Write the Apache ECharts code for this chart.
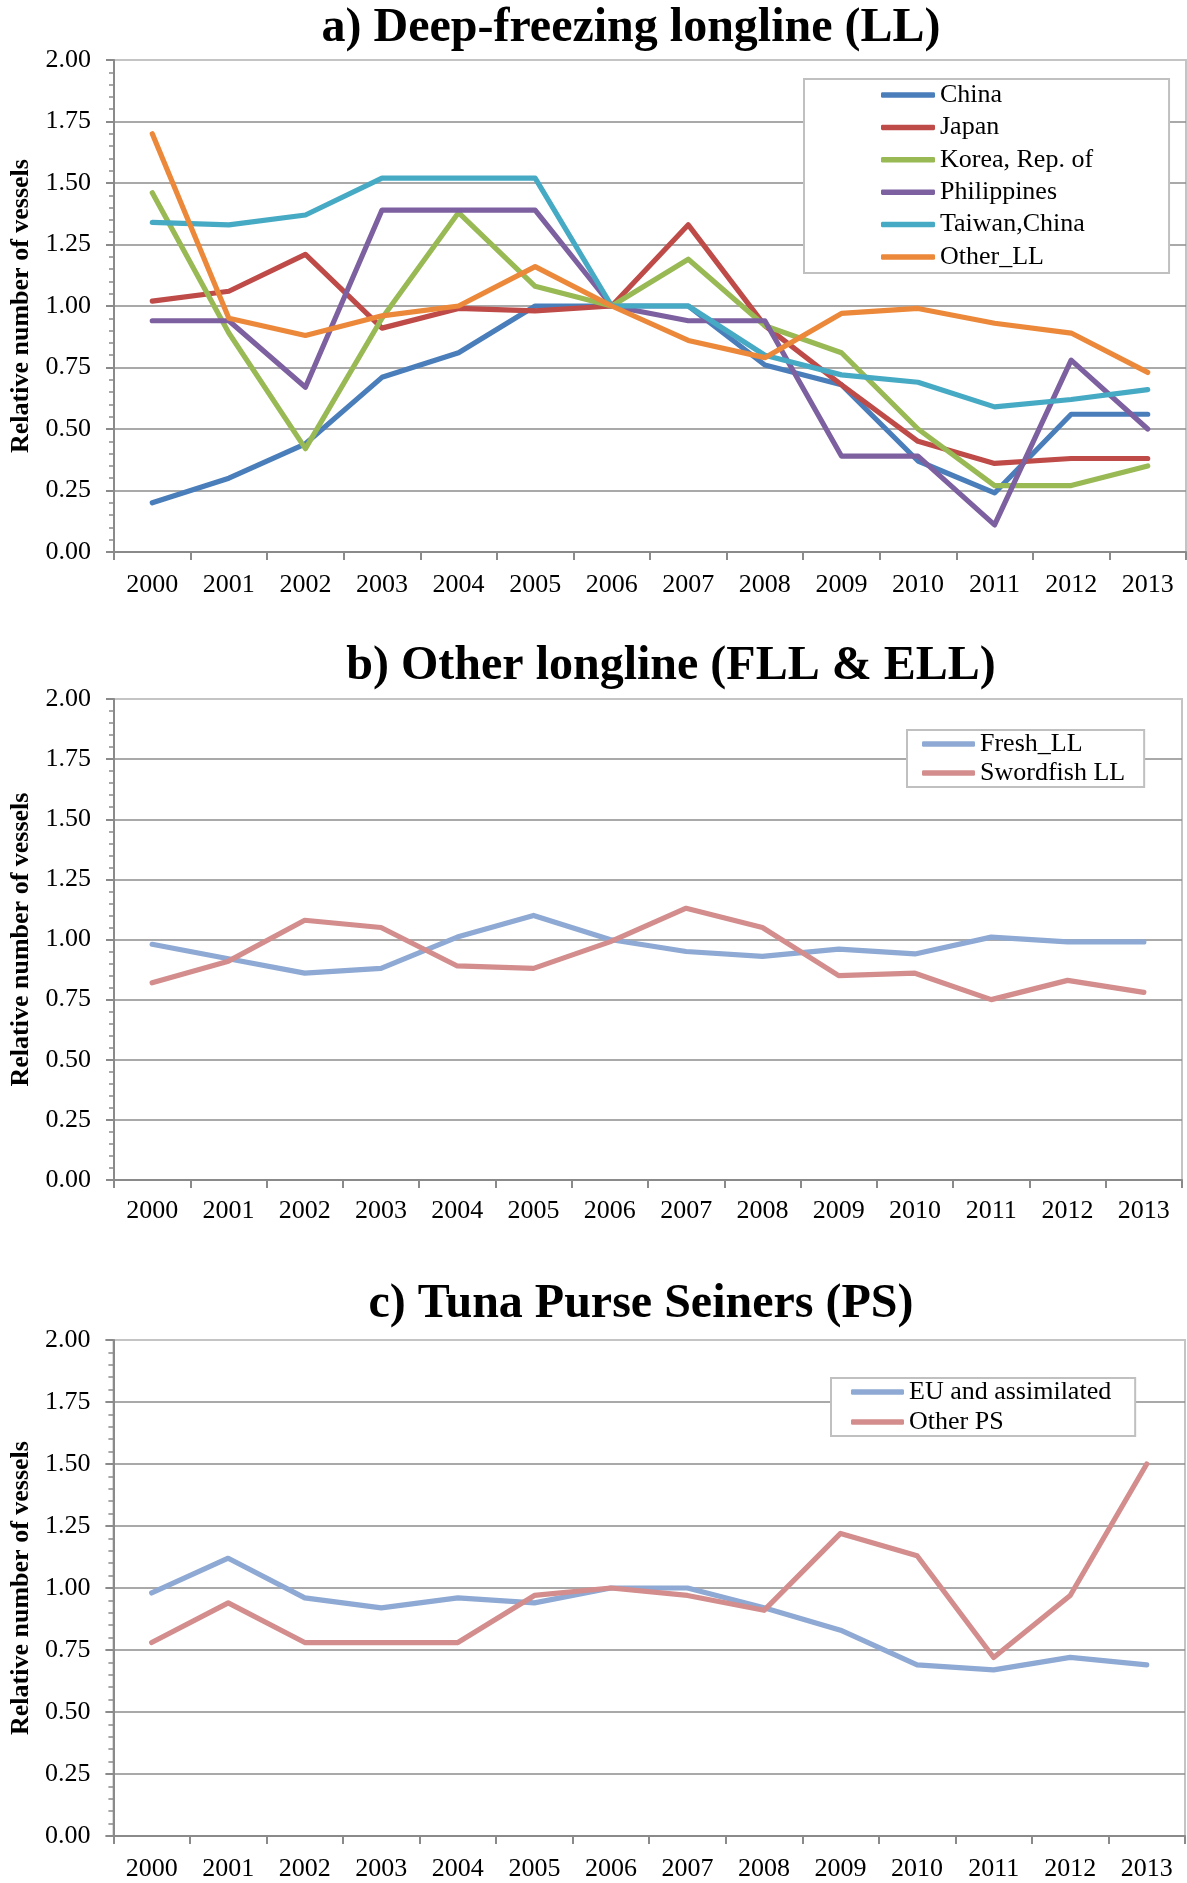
<!DOCTYPE html>
<html>
<head>
<meta charset="utf-8">
<script src="https://cdn.jsdelivr.net/npm/echarts@6/dist/echarts.min.js"></script>
<style>
  html, body { margin: 0; padding: 0; background: #fff; }
  #chart { width: 1187px; height: 1883px; }
</style>
</head>
<body>
<div id="chart"></div>
<script>
const years = ['2000', '2001', '2002', '2003', '2004', '2005', '2006', '2007', '2008', '2009', '2010', '2011', '2012', '2013']
const yTicks = [0, 0.25, 0.5, 0.75, 1, 1.25, 1.5, 1.75, 2]

// a) deep-freezing longline
const china = [0.20, 0.30, 0.44, 0.71, 0.81, 1.00, 1.00, 1.00, 0.76, 0.68, 0.37, 0.24, 0.56, 0.56]
const japan = [1.02, 1.06, 1.21, 0.91, 0.99, 0.98, 1.00, 1.33, 0.92, 0.68, 0.45, 0.36, 0.38, 0.38]
const korea = [1.46, 0.89, 0.42, 0.95, 1.38, 1.08, 1.00, 1.19, 0.92, 0.81, 0.50, 0.27, 0.27, 0.35]
const philippines = [0.94, 0.94, 0.67, 1.39, 1.39, 1.39, 1.00, 0.94, 0.94, 0.39, 0.39, 0.11, 0.78, 0.50]
const taiwan = [1.34, 1.33, 1.37, 1.52, 1.52, 1.52, 1.00, 1.00, 0.80, 0.72, 0.69, 0.59, 0.62, 0.66]
const otherLL = [1.70, 0.95, 0.88, 0.96, 1.00, 1.16, 1.00, 0.86, 0.79, 0.97, 0.99, 0.93, 0.89, 0.73]

// b) other longline
const freshLL = [0.98, 0.92, 0.86, 0.88, 1.01, 1.10, 1.00, 0.95, 0.93, 0.96, 0.94, 1.01, 0.99, 0.99]
const swordfishLL = [0.82, 0.91, 1.08, 1.05, 0.89, 0.88, 0.99, 1.13, 1.05, 0.85, 0.86, 0.75, 0.83, 0.78]

// c) purse seiners
const euPS = [0.98, 1.12, 0.96, 0.92, 0.96, 0.94, 1.00, 1.00, 0.92, 0.83, 0.69, 0.67, 0.72, 0.69]
const otherPS = [0.78, 0.94, 0.78, 0.78, 0.78, 0.97, 1.00, 0.97, 0.91, 1.22, 1.13, 0.72, 0.97, 1.50]

const FONT = 'Liberation Serif, Times New Roman, serif'
const AXIS_GRAY = '#8a8a8a'

const chart = echarts.init(document.getElementById('chart'), null, { renderer: 'canvas' })

const makeX = (gridIndex, margin) => ({
  type: 'category',
  gridIndex,
  data: years,
  boundaryGap: true,
  axisLine: { lineStyle: { color: AXIS_GRAY, width: 2 } },
  axisTick: { show: true, interval: 0, length: 8, lineStyle: { color: AXIS_GRAY, width: 2 } },
  axisLabel: { interval: 0, margin, color: '#000', fontFamily: FONT, fontSize: 26 },
  splitLine: { show: false }
})

const makeY = (gridIndex) => ({
  type: 'value',
  gridIndex,
  min: yTicks[0],
  max: yTicks[yTicks.length - 1],
  interval: 0.25,
  name: 'Relative number of vessels',
  nameLocation: 'middle',
  nameGap: 79,
  nameTextStyle: { fontFamily: FONT, fontSize: 26, fontWeight: 'bold', color: '#000' },
  axisLine: { show: true, lineStyle: { color: AXIS_GRAY, width: 2 } },
  axisTick: { show: true, length: 8, lineStyle: { color: AXIS_GRAY, width: 2 } },
  minorTick: { show: true, splitNumber: 5, length: 5, lineStyle: { color: AXIS_GRAY, width: 1.5 } },
  axisLabel: {
    margin: 23, color: '#000', fontFamily: FONT, fontSize: 26,
    formatter: v => v.toFixed(2)
  },
  splitLine: { show: true, showMinLine: false, showMaxLine: false, lineStyle: { color: '#8c8c8c', width: 1.5 } }
})

const line = (name, data, color, axisIndex) => ({
  name,
  type: 'line',
  data,
  xAxisIndex: axisIndex,
  yAxisIndex: axisIndex,
  showSymbol: false,
  symbol: 'none',
  color,
  lineStyle: { width: 5.2, color, cap: 'round', join: 'round' },
  emphasis: { disabled: true }
})

const legendBase = {
  orient: 'vertical',
  icon: 'roundRect',
  itemHeight: 5.5,
  itemWidth: 54,
  borderColor: '#c0c0c0',
  borderWidth: 2,
  backgroundColor: '#fff',
  selectedMode: false,
  textStyle: { fontFamily: FONT, fontSize: 26, color: '#000', lineHeight: 26 }
}

const titleText = (text, x, y) => ({
  type: 'text',
  x, y,
  style: {
    text,
    font: 'bold 48px ' + FONT,
    fill: '#000',
    textAlign: 'center',
    textVerticalAlign: 'middle'
  }
})

const option = {
  animation: false,
  backgroundColor: '#fff',
  graphic: [
    titleText('a) Deep-freezing longline (LL)', 631, 29),
    titleText('b) Other longline (FLL & ELL)', 671, 667),
    titleText('c) Tuna Purse Seiners (PS)', 641, 1305)
  ],
  grid: [
    { left: 114, right: 1, top: 60, height: 492, show: true, borderColor: '#c4c4c4', borderWidth: 2 },
    { left: 114, right: 5, top: 699, height: 481, show: true, borderColor: '#c4c4c4', borderWidth: 2 },
    { left: 112, right: 2, top: 1340, height: 496, show: true, borderColor: '#c4c4c4', borderWidth: 2 }
  ],
  xAxis: [makeX(0, 20), makeX(1, 18), makeX(2, 20)],
  yAxis: [makeY(0), makeY(1), makeY(2)],
  legend: [
    Object.assign({}, legendBase, {
      data: ['China', 'Japan', 'Korea, Rep. of', 'Philippines', 'Taiwan,China', 'Other_LL'],
      left: 804, top: 79,
      itemGap: 6.4,
      padding: [3, 76, 3, 77]
    }),
    Object.assign({}, legendBase, {
      data: ['Fresh_LL', 'Swordfish LL'],
      left: 907, top: 730,
      itemWidth: 53,
      itemGap: 3,
      padding: [1, 19, 1, 15]
    }),
    Object.assign({}, legendBase, {
      data: ['EU and assimilated', 'Other PS'],
      left: 831, top: 1378,
      itemWidth: 53,
      itemGap: 4,
      padding: [1, 24, 1, 20]
    })
  ],
  series: [
    line('China', china, '#4a7ebb', 0),
    line('Japan', japan, '#be4b48', 0),
    line('Korea, Rep. of', korea, '#98b954', 0),
    line('Philippines', philippines, '#7d60a0', 0),
    line('Taiwan,China', taiwan, '#46aac5', 0),
    line('Other_LL', otherLL, '#ec883a', 0),
    line('Fresh_LL', freshLL, '#8ea9d3', 1),
    line('Swordfish LL', swordfishLL, '#d38d8d', 1),
    line('EU and assimilated', euPS, '#8ea9d3', 2),
    line('Other PS', otherPS, '#d38d8d', 2)
  ]
}

chart.setOption(option)
window.addEventListener('resize', () => chart.resize())
</script>
</body>
</html>
